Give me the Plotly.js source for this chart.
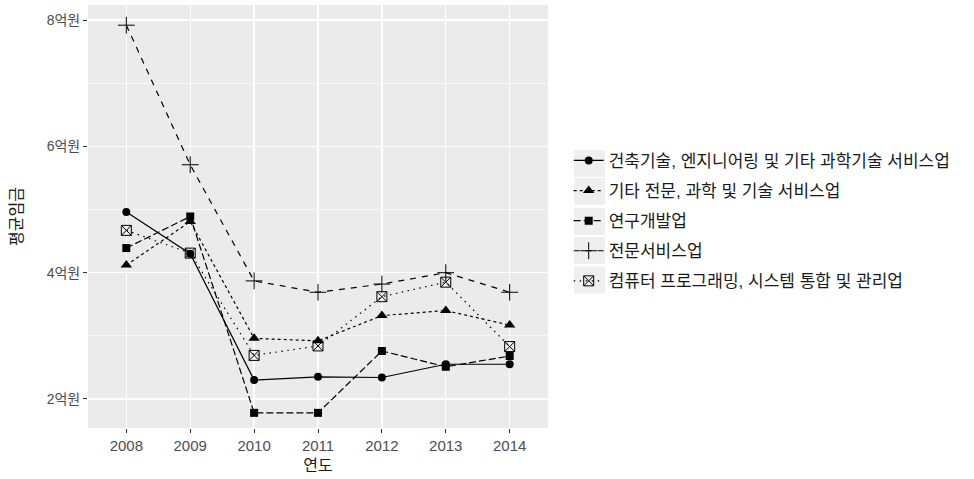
<!DOCTYPE html>
<html>
<head>
<meta charset="utf-8">
<script src="https://cdn.plot.ly/plotly-3.0.1.min.js"></script>
<style>html,body{margin:0;padding:0;background:#fff;}#chart{width:974px;height:479px;}</style>
</head>
<body>
<div id="chart"></div>
<script>
const years = [2008, 2009, 2010, 2011, 2012, 2013, 2014];
const seriesNames = [
  "건축기술, 엔지니어링 및 기타 과학기술 서비스업",
  "기타 전문, 과학 및 기술 서비스업",
  "연구개발업",
  "전문서비스업",
  "컴퓨터 프로그래밍, 시스템 통합 및 관리업"
];
const construction = [4.96, 4.30, 2.30, 2.35, 2.34, 2.55, 2.55];
const otherProf    = [4.12, 4.81, 2.96, 2.92, 3.32, 3.40, 3.17];
const research     = [4.39, 4.89, 1.78, 1.78, 2.76, 2.51, 2.68];
const profService  = [7.92, 5.71, 3.87, 3.69, 3.82, 4.00, 3.69];
const computer     = [4.67, 4.31, 2.69, 2.84, 3.62, 3.85, 2.83];
const yTickSuffix = "억원";
const xTitle = "연도";
const yTitle = "평균임금";

const seriesValues = [construction, otherProf, research, profService, computer];
const styles = [
  {dash: "solid",        symbol: "circle",        size: 8,  lw: 0},
  {dash: "3px,3px",      symbol: "triangle-up",   size: 10, lw: 0},
  {dash: "7px,3px",      symbol: "square",        size: 8,  lw: 0},
  {dash: "6px,6px",      symbol: "cross-thin",    size: 12, lw: 1},
  {dash: "1.5px,4.5px",  symbol: "square-x-open", size: 10, lw: 1}
];

const font = "Liberation Sans, Noto Sans CJK KR, sans-serif";
const traces = seriesValues.map((vals, i) => ({
  type: "scatter",
  mode: "lines+markers",
  x: years,
  y: vals,
  name: seriesNames[i],
  legendgroup: "g" + i,
  line: {color: "black", width: 1.2, dash: styles[i].dash},
  marker: {color: "black", symbol: styles[i].symbol, size: styles[i].size,
           line: {color: "black", width: styles[i].lw}}
}));

// legend key backgrounds (ggplot style grey boxes), in paper coordinates
const plotL = 88, plotW = 460, plotB = 428, plotH = 423;
const keyCenters = [163.5, 191.5, 221.5, 250.5, 280];
const shapes = keyCenters.map(c => ({
  type: "rect", xref: "paper", yref: "paper", layer: "above",
  x0: (574 - plotL) / plotW, x1: (605 - plotL) / plotW,
  y0: (plotB - (c + 13.5)) / plotH, y1: (plotB - (c - 13.5)) / plotH,
  fillcolor: "#EFEFEF", line: {width: 0}
}));

const layout = {
  width: 974, height: 479,
  margin: {l: 88, r: 426, t: 5, b: 51},
  paper_bgcolor: "white",
  plot_bgcolor: "#EBEBEB",
  font: {family: font, color: "#4D4D4D"},
  showlegend: true,
  shapes: shapes,
  legend: {
    x: 1.045, xanchor: "left", y: 0.674, yanchor: "top",
    font: {family: font, size: 17, color: "#1A1A1A"},
    tracegroupgap: 5,
    bgcolor: "rgba(0,0,0,0)"
  },
  xaxis: {
    range: [2007.4, 2014.6],
    tickmode: "array", tickvals: years, ticktext: years.map(String),
    showgrid: true, gridcolor: "white", gridwidth: 1.4,
    zeroline: false, showline: false,
    ticks: "outside", ticklen: 4, tickcolor: "#333333", tickwidth: 1,
    tickfont: {size: 15, color: "#4D4D4D"},
    title: {text: xTitle, font: {size: 16, color: "#1A1A1A"}, standoff: 6}
  },
  yaxis: {
    range: [1.54, 8.24],
    tickmode: "linear", tick0: 2, dtick: 2, ticksuffix: yTickSuffix,
    showgrid: true, gridcolor: "white", gridwidth: 1.4,
    zeroline: false, showline: false,
    ticks: "outside", ticklen: 4, tickcolor: "#333333", tickwidth: 1,
    tickfont: {size: 14, color: "#4D4D4D"},
    minor: {tickmode: "linear", tick0: 1, dtick: 1, showgrid: true, gridcolor: "white", gridwidth: 0.6, ticks: ""},
    title: {text: yTitle, font: {size: 16, color: "#1A1A1A"}, standoff: 20}
  }
};

Plotly.newPlot("chart", traces, layout, {displayModeBar: false, staticPlot: true});
</script>
</body>
</html>
